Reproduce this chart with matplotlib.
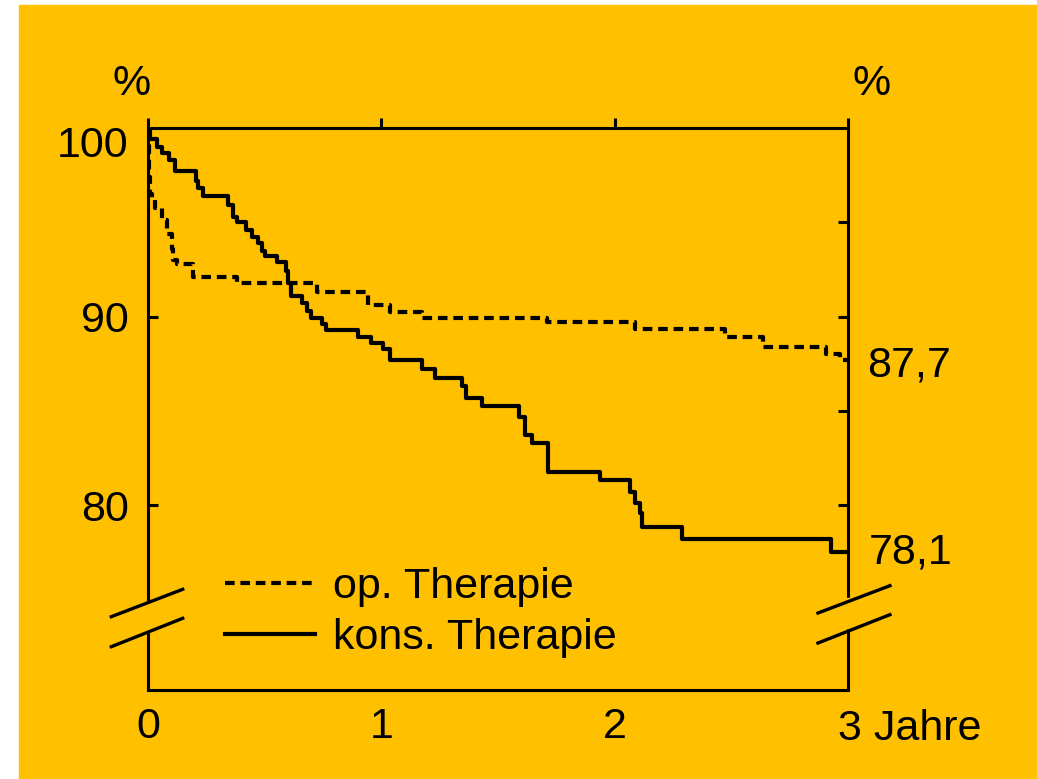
import matplotlib.pyplot as plt
from matplotlib.patches import Rectangle
from matplotlib.lines import Line2D

plt.rcParams['font.family'] = ['Liberation Sans', 'DejaVu Sans']

# Kaplan-Meier style steps (years, %)
t_op = [0.000, 0.004, 0.009, 0.017, 0.030, 0.060, 0.081, 0.103, 0.107, 0.124,
        0.193, 0.381, 0.724, 0.942, 1.036, 1.173, 1.709, 2.086, 2.471, 2.634,
        2.908, 2.964, 3.000]
v_op = [99.9, 97.4, 96.5, 96.3, 95.75, 95.1, 94.4, 93.6, 93.0, 92.8,
        92.1, 91.8, 91.3, 90.6, 90.25, 89.95, 89.7, 89.35, 88.9, 88.4,
        88.0, 87.7, 87.7]

t_kons = [0.000, 0.010, 0.040, 0.060, 0.090, 0.115, 0.205, 0.215, 0.235, 0.343,
          0.365, 0.380, 0.420, 0.445, 0.470, 0.490, 0.500, 0.555, 0.590, 0.600,
          0.615, 0.660, 0.680, 0.700, 0.745, 0.765, 0.900, 0.955, 1.006, 1.036,
          1.173, 1.229, 1.345, 1.365, 1.430, 1.590, 1.615, 1.645, 1.713, 1.936,
          2.064, 2.086, 2.107, 2.116, 2.287, 2.929, 3.000]
v_kons = [100.0, 99.4, 99.0, 98.7, 98.3, 97.7, 97.2, 96.8, 96.4, 95.9,
          95.3, 95.0, 94.6, 94.2, 93.9, 93.5, 93.2, 92.9, 92.4, 91.8,
          91.1, 90.7, 90.3, 89.9, 89.6, 89.3, 88.9, 88.6, 88.3, 87.7,
          87.2, 86.75, 86.3, 85.7, 85.25, 84.7, 83.7, 83.3, 81.75, 81.35,
          80.7, 80.1, 79.6, 78.85, 78.2, 77.5, 77.5]

labels = ['op. Therapie', 'kons. Therapie']
end_labels = ['87,7', '78,1']
x_ticklabels = ['0', '1', '2']
y_ticklabels = ['80', '90']

orange = '#FFC000'
fs = 31
lw = 3.0

fig = plt.figure(figsize=(10.37, 7.79), dpi=100, facecolor='white')
fig.patches.append(Rectangle((19 / 1037, 0), 1 - 19 / 1037, 1 - 5 / 779,
                             transform=fig.transFigure, color=orange, zorder=-1))

ax = fig.add_axes([0.1427, 0.1142, 0.675, 0.7215])
ax.set_facecolor(orange)

l_op, = ax.plot(t_op, v_op, drawstyle='steps-post', color='k', lw=lw,
                linestyle=(0, (2.3, 1.4)), label=labels[0])
l_kons, = ax.plot(t_kons, v_kons, drawstyle='steps-post', color='k', lw=lw,
                  label=labels[1])

ax.set_xlim(0, 3)
ax.set_ylim(70.2, 100)

for s in ax.spines.values():
    s.set_linewidth(2.2)

# x: marks only on top, labels below
ax.set_xticks([0, 1, 2, 3])
ax.set_xticklabels(x_ticklabels + [''])
ax.tick_params(axis='x', bottom=False, top=True, labelbottom=True,
               direction='out', length=7, width=2.2, labelsize=fs, pad=5)

# y: left labels, inward marks; extra minor marks on the right
ax.set_yticks([80, 90])
ax.set_yticklabels(y_ticklabels)
ax.set_yticks([85, 95], minor=True)
ax.tick_params(axis='y', which='major', left=True, right=True, direction='in',
               length=7, width=2.2, labelsize=fs, pad=14)
ax.tick_params(axis='y', which='minor', left=False, right=True, direction='in',
               length=7, width=2.2)

ax.annotate('100', xy=(0, 100), xytext=(-14, -13), textcoords='offset points',
            ha='right', va='center', fontsize=fs)
ax.annotate('3 Jahre', xy=(3, 70.2), xytext=(-7, -28), textcoords='offset points',
            ha='left', va='center', fontsize=fs)
ax.annotate('%', xy=(0, 1), xycoords='axes fraction', xytext=(-11.5, 32),
            textcoords='offset points', ha='center', va='center', fontsize=fs)
ax.annotate('%', xy=(1, 1), xycoords='axes fraction', xytext=(17, 32),
            textcoords='offset points', ha='center', va='center', fontsize=fs)

# end values at the right edge
ax.annotate(end_labels[0], xy=(3, v_op[-1]), xytext=(14, -4),
            textcoords='offset points', ha='left', va='center', fontsize=fs)
ax.annotate(end_labels[1], xy=(3, v_kons[-1]), xytext=(15, 0),
            textcoords='offset points', ha='left', va='center', fontsize=fs)

# axis breaks
for x0 in (-0.012, 0.988):
    ax.add_patch(Rectangle((x0, 0.104 + (0.007 if x0 > 0 else 0)), 0.024, 0.053,
                           transform=ax.transAxes, color=orange, zorder=3,
                           clip_on=False))
for (xa, xb), dy in (((-0.0524, 0.0496), 0.0), ((0.9571, 1.06), 0.0065)):
    for y0, y1 in ((0.1305, 0.1792), (0.0771, 0.1276)):
        ax.add_line(Line2D([xa, xb], [y0 + dy, y1 + dy], transform=ax.transAxes,
                           color='k', lw=2.4, clip_on=False, zorder=4))

ax.legend(handles=[l_op, l_kons], loc='center left', bbox_to_anchor=(0.11, 0.138),
          frameon=False, fontsize=fs, handlelength=2.1, handletextpad=0.4,
          labelspacing=0.25, borderpad=0, borderaxespad=0)

fig.savefig('out.png', dpi=100)
